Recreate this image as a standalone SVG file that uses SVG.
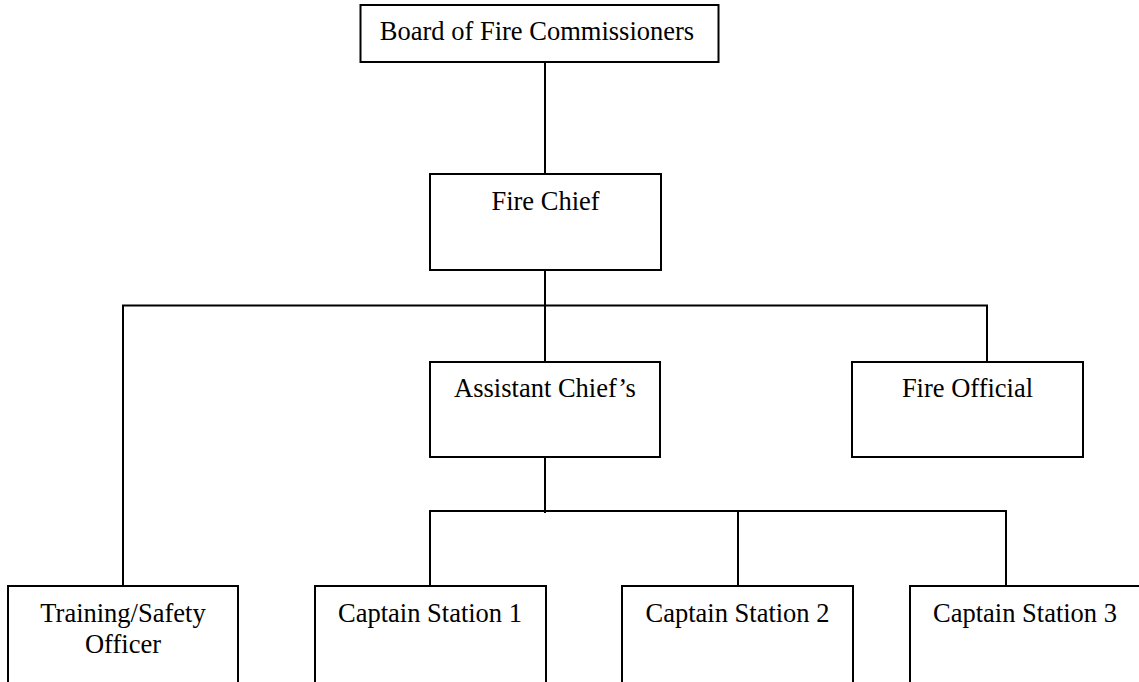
<svg xmlns="http://www.w3.org/2000/svg" width="1139" height="682" viewBox="0 0 1139 682">
<style>
.box{fill:#fff;stroke:#000;stroke-width:2}
.ln{fill:none;stroke:#000;stroke-width:2}
text{font-family:"Liberation Serif","Times New Roman",serif;font-size:26.5px;fill:#000;text-anchor:middle}
</style>
<rect width="1139" height="682" fill="#fff"/>
<g id="connectors">
<line class="ln" x1="545" y1="62" x2="545" y2="174"/>
<line class="ln" x1="545" y1="268" x2="545" y2="364"/>
<polyline class="ln" points="123,593 123,305.5 987,305.5 987,364"/>
<line class="ln" x1="545" y1="455" x2="545" y2="513"/>
<polyline class="ln" points="430,593 430,511 1006,511 1006,593"/>
<line class="ln" x1="738" y1="511" x2="738" y2="593"/>
</g>
<g id="board">
<rect class="box" x="360.5" y="5" width="358" height="57"/>
<text x="537" y="40">Board of Fire Commissioners</text>
</g>
<g id="fire-chief">
<rect class="box" x="430" y="174" width="231" height="96"/>
<text x="545.5" y="210">Fire Chief</text>
</g>
<g id="assistant-chief">
<rect class="box" x="430" y="362" width="230" height="95"/>
<text x="545" y="397">Assistant Chief’s</text>
</g>
<g id="fire-official">
<rect class="box" x="852" y="362" width="231" height="95"/>
<text x="967.5" y="397">Fire Official</text>
</g>
<g id="training-safety">
<rect class="box" x="8" y="586" width="230" height="110"/>
<text x="123" y="622">Training/Safety</text>
<text x="123" y="653">Officer</text>
</g>
<g id="captain-1">
<rect class="box" x="315" y="586" width="231" height="110"/>
<text x="430" y="622">Captain Station 1</text>
</g>
<g id="captain-2">
<rect class="box" x="622" y="586" width="231" height="110"/>
<text x="737.5" y="622">Captain Station 2</text>
</g>
<g id="captain-3">
<rect class="box" x="910" y="586" width="231" height="110"/>
<text x="1025" y="622">Captain Station 3</text>
</g>
</svg>
